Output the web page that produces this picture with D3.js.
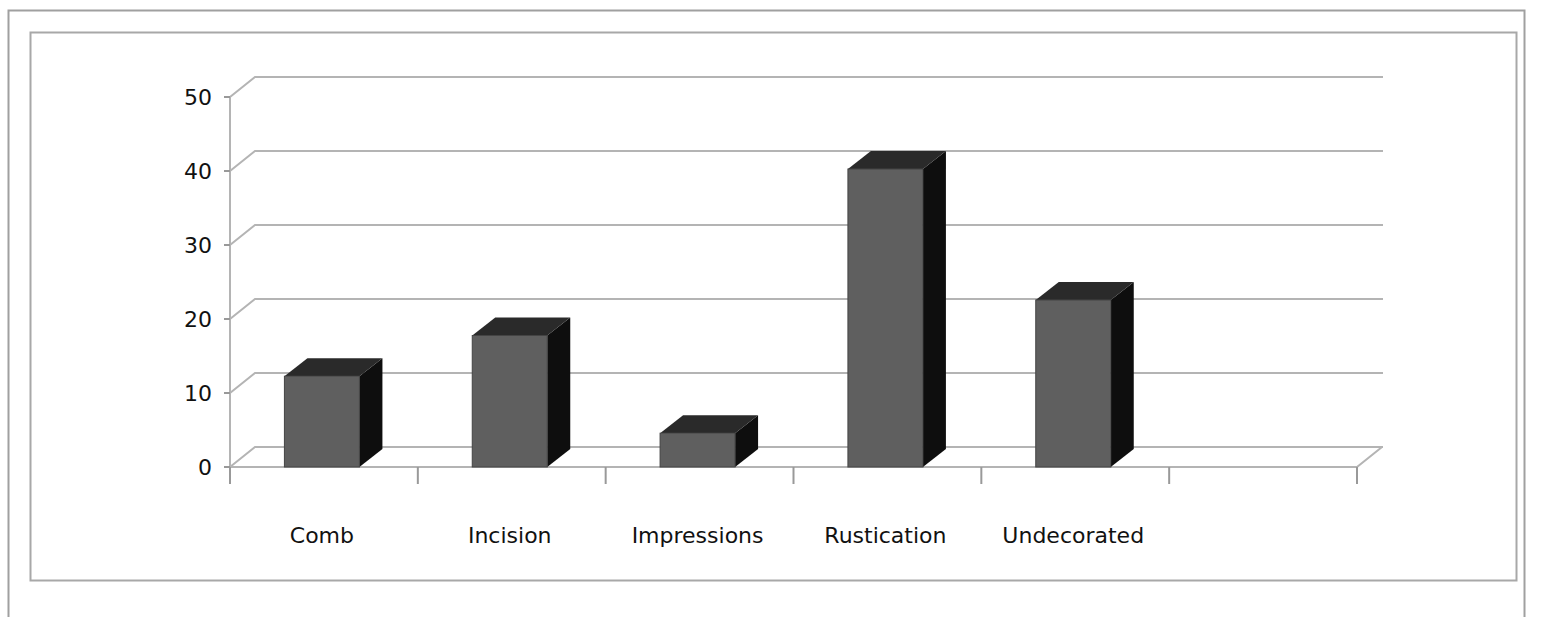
<!DOCTYPE html>
<html><head><meta charset="utf-8">
<script src="https://cdn.jsdelivr.net/npm/d3@7"></script>
<style>body{margin:0;background:#fff}</style>
</head><body>
<script>
// data
var categories = ["Comb","Incision","Impressions","Rustication","Undecorated",""];
var values = [12,17.5,4.3,40,22.3,null];
var yTicks = [0,10,20,30,40,50];

var W=1552,H=617;
var svg=d3.select("body").append("svg").attr("width",W).attr("height",H);

// frames
svg.append("rect").attr("x",8.5).attr("y",10.5).attr("width",1516).attr("height",620).attr("fill","none").attr("stroke","#a0a0a0").attr("stroke-width",2);
svg.append("rect").attr("x",30.5).attr("y",32.5).attr("width",1486).attr("height",548).attr("fill","#fff").attr("stroke","#a8a8a8").attr("stroke-width",2);

var x=d3.scaleBand().domain(categories.map(function(d,i){return i;})).range([230,1357]);
var y=d3.scaleLinear().domain([0,50]).range([467,97]);
var WDX=25,WDY=20; // wall depth
var BDX=23,BDY=18; // bar depth

var g=svg.append("g");
// gridlines on back wall
yTicks.forEach(function(t){
	g.append("path").attr("d","M230,"+y(t)+"L"+(230+WDX)+","+(y(t)-WDY)+"L"+(1357+WDX+1)+","+(y(t)-WDY))
	.attr("fill","none").attr("stroke","#b4b4b4").attr("stroke-width",2);
});
// floor front edge and right edge
g.append("path").attr("d","M230,"+y(0)+"L1357,"+y(0)+"L"+(1357+WDX)+","+(y(0)-WDY))
	.attr("fill","none").attr("stroke","#b4b4b4").attr("stroke-width",2);
// y axis
g.append("line").attr("x1",230).attr("x2",230).attr("y1",y(50)).attr("y2",y(0)).attr("stroke","#b4b4b4").attr("stroke-width",2);
yTicks.forEach(function(t){
	g.append("line").attr("x1",224).attr("x2",230).attr("y1",y(t)).attr("y2",y(t)).attr("stroke","#999").attr("stroke-width",2);
	g.append("text").text(t).attr("x",212).attr("y",y(t)+8).attr("text-anchor","end")
	.style("font-family","DejaVu Sans").style("font-size","22px").style("fill","#111");
});
// x ticks
categories.concat(["end"]).forEach(function(d,i){
	var xx=i<categories.length?x(i):1357;
	g.append("line").attr("x1",xx).attr("x2",xx).attr("y1",y(0)).attr("y2",y(0)+17).attr("stroke","#999").attr("stroke-width",2);
});
// bars: value read on the back wall
values.forEach(function(v,i){
	if(v==null)return;
	var bw=75, x0=x(i)+(x.bandwidth()-bw)/2-2, x1=x0+bw;
	var yb=y(0), yt=y(v)-WDY+BDY;
	var bg=g.append("g");
	bg.append("path").attr("d","M"+x1+","+yt+"L"+(x1+BDX)+","+(yt-BDY)+"L"+(x1+BDX)+","+(yb-BDY)+"L"+x1+","+yb+"Z").attr("fill","#0e0e0e");
	bg.append("path").attr("d","M"+x0+","+yt+"L"+(x0+BDX)+","+(yt-BDY)+"L"+(x1+BDX)+","+(yt-BDY)+"L"+x1+","+yt+"Z").attr("fill","#2a2a2a");
	bg.append("rect").attr("x",x0).attr("y",yt).attr("width",bw).attr("height",yb-yt).attr("fill","#5f5f5f").attr("stroke","#444").attr("stroke-width",1);
});
// category labels
categories.forEach(function(d,i){
	g.append("text").text(d).attr("x",x(i)+x.bandwidth()/2-2).attr("y",543).attr("text-anchor","middle")
	.style("font-family","DejaVu Sans").style("font-size","22px").style("fill","#111");
});
</script>
</body></html>
